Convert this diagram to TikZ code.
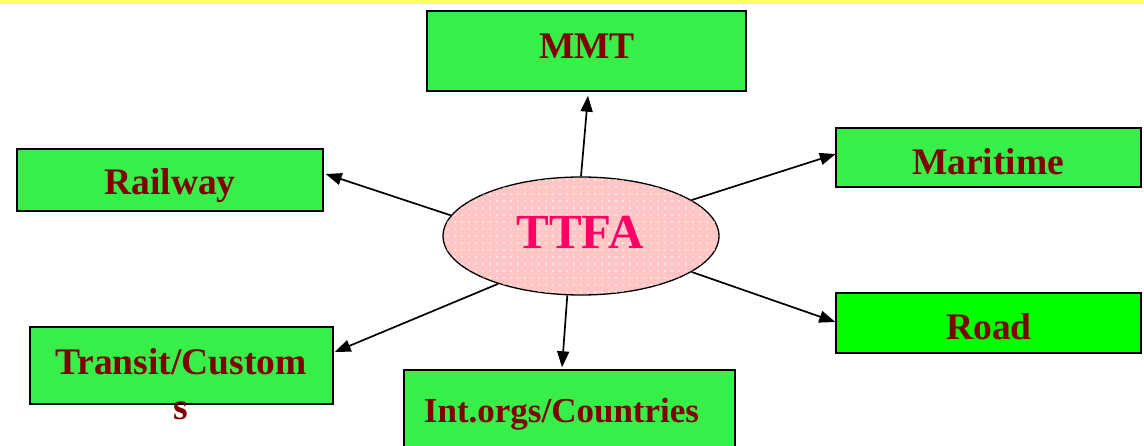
\documentclass[tikz,border=0pt]{standalone}
\usepackage{fontspec}
\setmainfont{Liberation Serif}
\usetikzlibrary{shapes.geometric,arrows.meta,patterns.meta}
\definecolor{boxgreen}{HTML}{38EE48}
\definecolor{roadgreen}{HTML}{00FF00}
\definecolor{labelred}{HTML}{800000}
\definecolor{hubpink}{HTML}{FFC6C6}
\definecolor{hubtext}{HTML}{FF0066}
\definecolor{topband}{HTML}{FFFF66}
\tikzset{
  box/.style={draw=black, line width=1.4pt, fill=boxgreen, inner sep=0pt},
  lbl/.style={text=labelred, font=\bfseries\fontsize{37.5}{40}\selectfont, inner sep=0pt, anchor=base},
  hub/.style={ellipse, draw=black, line width=1.3pt, fill=hubpink, inner sep=0pt,
    postaction={pattern={Dots[distance=7pt,radius=0.8pt]}, pattern color=white}},
  arr/.style={line width=1.7pt, -{Triangle[length=16pt,width=12pt]}}
}
\begin{document}
\begin{tikzpicture}[x=1pt,y=-1pt]
  \useasboundingbox (0,0) rectangle (1144,446);
  \clip (0,0) rectangle (1144,446);
  % band along the top edge
  \fill[topband] (0,0) rectangle (1144,4);

  % boxes
  \node[box, minimum width=319pt, minimum height=80pt] (mmt)  at (586.5,51) {};
  \node[box, minimum width=306pt, minimum height=62pt] (rail) at (170,180) {};
  \node[box, minimum width=305pt, minimum height=59pt] (mar)  at (988.5,157.5) {};
  \node[box, fill=roadgreen, minimum width=305pt, minimum height=60pt] (road) at (988.5,323) {};
  \node[box, minimum width=303pt, minimum height=77pt] (tr)   at (181.5,365.5) {};
  \node[box, minimum width=331pt, minimum height=82pt] (int)  at (569.5,411) {};

  % box labels
  \node[lbl] (mmtT)  at (587,59)  {MMT};
  \node[lbl] (railT) at (170,195) {Railway};
  \node[lbl] (marT)  at (988,175) {Maritime};
  \node[lbl] (roadT) at (989,340) {Road};
  \node[lbl] (trT)   at (181,375) {Transit/Custom};
  \node[lbl] (trS)   at (181,420) {s};
  \node[lbl, font=\bfseries\fontsize{35}{40}\selectfont] (intT) at (561.5,422) {Int.orgs/Countries};

  % central ellipse
  \node[hub, minimum width=276pt, minimum height=118pt] (ell) at (581,236) {};
  \node[lbl, text=hubtext, font=\bfseries\fontsize{49}{52}\selectfont] (ttfa) at (580,249) {TTFA};

  % connectors
  \draw[arr] (ell.90)    -- ([xshift=1.5pt,yshift=-4pt]mmt.south);
  \draw[arr] (ell.171)   -- ([xshift=2pt,yshift=6pt]rail.east);
  \draw[arr] (ell.18.3)  -- ([xshift=0.5pt,yshift=3.5pt]mar.west);
  \draw[arr] (ell.-18.7) -- ([yshift=1pt]road.west);
  \draw[arr] (ell.210.3) -- ([xshift=1pt,yshift=13.5pt]tr.east);
  \draw[arr] (ell.257.6) -- ([xshift=-7.5pt,yshift=2pt]int.north);
\end{tikzpicture}
\end{document}
